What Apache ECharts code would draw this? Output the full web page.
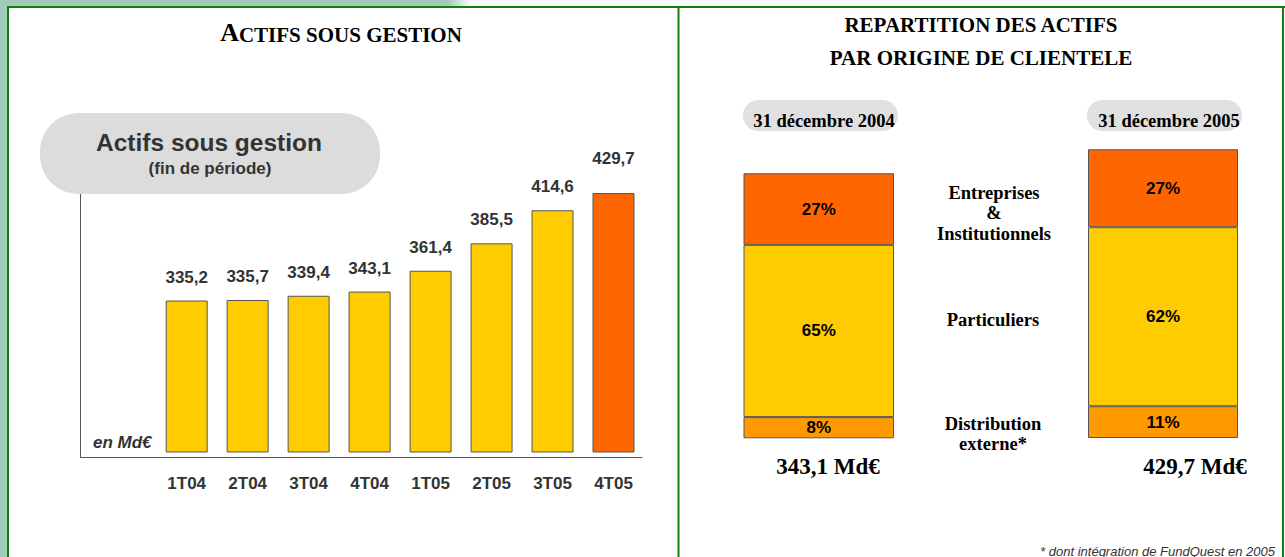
<!DOCTYPE html>
<html><head><meta charset="utf-8">
<script src="https://cdn.jsdelivr.net/npm/echarts@6/dist/echarts.min.js"></script>
<style>html,body{margin:0;padding:0;background:#fff}#c{width:1285px;height:557px}</style>
</head><body><div id="c"></div>
<script>
// ---- data ----
const quarters = ['1T04','2T04','3T04','4T04','1T05','2T05','3T05','4T05'];
const assets = [335.2, 335.7, 339.4, 343.1, 361.4, 385.5, 414.6, 429.7];
const segmentNames = ['Distribution externe*', 'Particuliers', 'Entreprises & Institutionnels'];
const segmentLines = [['Distribution','externe*'], ['Particuliers'], ['Entreprises','&','Institutionnels']];
const share2004 = [8, 65, 27];
const share2005 = [11, 62, 27];
const dates = ['31 décembre 2004', '31 décembre 2005'];
const totals = [343.1, 429.7];

// ---- styles ----
const SERIF = "'Liberation Serif', 'Times New Roman', serif";
const SANS = "'Liberation Sans', Arial, sans-serif";
const GREEN = '#108010';
const LIGHTGREEN = '#a3cbb9';
const segColors = ['#FF9900', '#FFCC00', '#FF6600'];
const fmt = v => v.toFixed(1).replace('.', ',');

const chart = echarts.init(document.getElementById('c'), null, {renderer: 'svg'});

const hiddenVal = (g, min, max) => ({gridIndex: g, type: 'value', min, max, show: false});

const barData = assets.map((v, i) => {
  const last = i === assets.length - 1;
  const d = {value: v, itemStyle: {color: last ? '#FF6600' : '#FFCC00'}};
  if (last) d.label = {distance: 26.5};
  return d;
});

const stackSeries = [];
[share2004, share2005].forEach((arr, gi) => {
  arr.forEach((v, k) => {
    stackSeries.push({
      type: 'bar', name: segmentNames[k], xAxisIndex: 2 + gi, yAxisIndex: 2 + gi,
      stack: 's' + gi, barWidth: '100%', barCategoryGap: 0,
      data: [v],
      itemStyle: {color: segColors[k], borderColor: '#555', borderWidth: 1},
      label: {show: true, position: 'inside', formatter: '{c}%', color: '#000',
              fontFamily: SANS, fontWeight: 'bold', fontSize: 17},
      silent: true
    });
  });
});

const txt = (text, x, y, o) => ({
  type: 'text', z: 20,
  style: Object.assign({text, x, y, align: 'center', verticalAlign: 'middle',
    textAlign: 'center', textVerticalAlign: 'middle', fill: '#000'}, o || {})
});

const graphics = [
  {type: 'rect', z: 5, shape: {x: 0, y: 0, width: 7, height: 557}, style: {fill: LIGHTGREEN}},
  {type: 'rect', z: 5, shape: {x: 0, y: 0, width: 472, height: 7},
    style: {fill: new echarts.graphic.LinearGradient(0, 0, 1, 0, [
      {offset: 0, color: LIGHTGREEN}, {offset: 0.95, color: LIGHTGREEN},
      {offset: 1, color: 'rgba(163,203,185,0)'}])}},
  {type: 'line', z: 6, shape: {x1: 7, y1: 7, x2: 1285, y2: 7}, style: {stroke: GREEN, lineWidth: 2}},
  {type: 'line', z: 6, shape: {x1: 8, y1: 7, x2: 8, y2: 557}, style: {stroke: GREEN, lineWidth: 2}},
  {type: 'line', z: 6, shape: {x1: 678.5, y1: 7, x2: 678.5, y2: 557}, style: {stroke: GREEN, lineWidth: 2}},
  {type: 'line', z: 6, shape: {x1: 1283, y1: 7, x2: 1283, y2: 557}, style: {stroke: GREEN, lineWidth: 2}},
  // left title (small caps)
  {type: 'text', z: 20, style: {text: '{a|A}{b|CTIFS SOUS GESTION}', x: 341, y: 32,
    align: 'center', verticalAlign: 'middle', textAlign: 'center', textVerticalAlign: 'middle',
    rich: {a: {fontFamily: SERIF, fontWeight: 'bold', fontSize: 26, fill: '#000', color: '#000', verticalAlign: 'bottom'},
           b: {fontFamily: SERIF, fontWeight: 'bold', fontSize: 21, fill: '#000', color: '#000', verticalAlign: 'bottom'}}}},
  // pill
  {type: 'rect', z: 15, shape: {x: 40, y: 113, width: 340, height: 81, r: 38}, style: {fill: '#dcdcdc'}},
  txt('Actifs sous gestion', 209, 142, {fontFamily: SANS, fontWeight: 'bold', fontSize: 24.5, fill: '#333'}),
  txt('(fin de période)', 210, 168, {fontFamily: SANS, fontWeight: 'bold', fontSize: 17, fill: '#333'}),
  txt('en Md€', 93, 442, {align: 'left', textAlign: 'left', fontFamily: SANS, fontWeight: 'bold', fontStyle: 'italic', fontSize: 17, fill: '#333'}),
  // right titles
  txt('REPARTITION DES ACTIFS', 981, 25, {fontFamily: SERIF, fontWeight: 'bold', fontSize: 21}),
  txt('PAR ORIGINE DE CLIENTELE', 981, 58, {fontFamily: SERIF, fontWeight: 'bold', fontSize: 21}),
  {type: 'rect', z: 15, shape: {x: 743, y: 100, width: 155, height: 31, r: 15.5}, style: {fill: '#e0e0e0'}},
  {type: 'rect', z: 15, shape: {x: 1087, y: 100, width: 155, height: 31, r: 15.5}, style: {fill: '#e0e0e0'}},
  txt(dates[0], 824, 121, {fontFamily: SERIF, fontWeight: 'bold', fontSize: 18.5}),
  txt(dates[1], 1169, 121, {fontFamily: SERIF, fontWeight: 'bold', fontSize: 18.5}),
  txt(segmentLines[2].join('\n'), 994, 213, {fontFamily: SERIF, fontWeight: 'bold', fontSize: 18.5, lineHeight: 20.5}),
  txt(segmentLines[1].join('\n'), 993, 319.5, {fontFamily: SERIF, fontWeight: 'bold', fontSize: 18.5, lineHeight: 20.5}),
  txt(segmentLines[0].join('\n'), 993, 434, {fontFamily: SERIF, fontWeight: 'bold', fontSize: 18.5, lineHeight: 20.5}),
  txt(fmt(totals[0]) + ' Md€', 828, 466, {fontFamily: SERIF, fontWeight: 'bold', fontSize: 23}),
  txt(fmt(totals[1]) + ' Md€', 1195, 466, {fontFamily: SERIF, fontWeight: 'bold', fontSize: 23}),
  txt('* dont intégration de FundQuest en 2005', 1275, 551, {align: 'right', textAlign: 'right',
    fontFamily: SANS, fontStyle: 'italic', fontSize: 13, fill: '#333'})
];

chart.setOption({
  animation: false,
  backgroundColor: '#fff',
  grid: [
    {left: 80.7, top: 194, width: 561.3, height: 263.3},
    {left: 156.2, top: 170, width: 487.8, height: 282},
    {left: 743.5, top: 173.3, width: 150.5, height: 265},
    {left: 1088, top: 149.3, width: 150, height: 288.7}
  ],
  xAxis: [
    {gridIndex: 0, type: 'value', min: 0, max: 1, axisLine: {show: true, lineStyle: {color: '#555', width: 1}},
      axisTick: {show: false}, axisLabel: {show: false}, splitLine: {show: false}},
    {gridIndex: 1, type: 'category', data: quarters, axisLine: {show: false}, axisTick: {show: false},
      axisLabel: {margin: 22.5, fontFamily: SANS, fontWeight: 'bold', fontSize: 17, color: '#333'}},
    {gridIndex: 2, type: 'category', data: [dates[0]], show: false},
    {gridIndex: 3, type: 'category', data: [dates[1]], show: false}
  ],
  yAxis: [
    {gridIndex: 0, type: 'value', min: 0, max: 1, axisLine: {show: true, lineStyle: {color: '#555', width: 1}},
      axisTick: {show: false}, axisLabel: {show: false}, splitLine: {show: false}},
    hiddenVal(1, 202, 450),
    hiddenVal(2, 0, 100),
    hiddenVal(3, 0, 100)
  ],
  series: [
    {type: 'bar', name: 'Actifs sous gestion', xAxisIndex: 1, yAxisIndex: 1, barWidth: 42, data: barData,
      itemStyle: {borderColor: '#555', borderWidth: 1},
      label: {show: true, position: 'top', distance: 15, formatter: p => fmt(p.value),
        fontFamily: SANS, fontWeight: 'bold', fontSize: 17, color: '#333'},
      silent: true}
  ].concat(stackSeries),
  graphic: graphics
});
</script>
</body></html>
